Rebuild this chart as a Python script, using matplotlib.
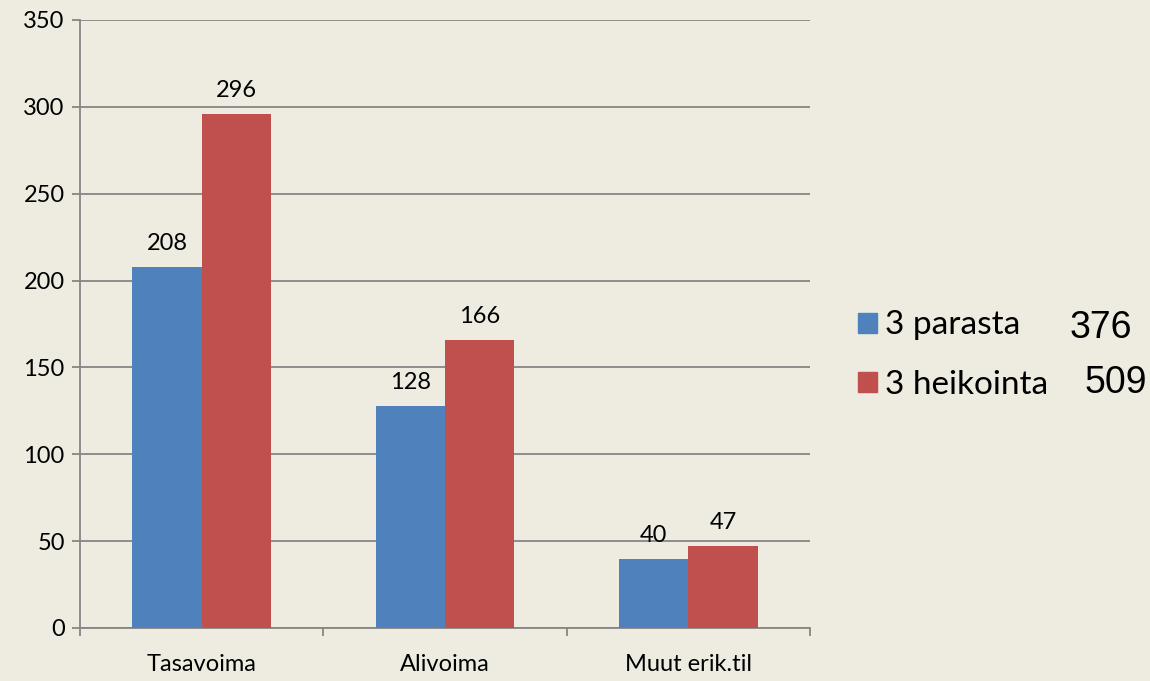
import numpy as np
import matplotlib.pyplot as plt
from matplotlib.patches import Patch

categories = ['Tasavoima', 'Alivoima', 'Muut erik.til']
parasta = [208, 128, 40]
heikointa = [296, 166, 47]
series_names = ['3 parasta', '3 heikointa']
totals = ['376', '509']

bg = '#EEECE1'
blue = '#4F81BD'
red = '#C0504D'
grid_col = '#868686'

plt.rcParams['font.family'] = ['Lato', 'DejaVu Sans']

fig = plt.figure(figsize=(11.5, 6.81), dpi=100, facecolor=bg)
ax = fig.add_axes([80 / 1150, 53 / 681, 730 / 1150, 608 / 681])
ax.set_facecolor(bg)

x = np.arange(len(categories))
w = 0.285
b1 = ax.bar(x - w / 2, parasta, w, color=blue, zorder=3)
b2 = ax.bar(x + w / 2, heikointa, w, color=red, zorder=3)

for bars, vals in ((b1, parasta), (b2, heikointa)):
    for rect, v in zip(bars, vals):
        ax.annotate(str(v), (rect.get_x() + rect.get_width() / 2, v),
                    xytext=(0, 13), textcoords='offset pixels',
                    ha='center', va='bottom', fontsize=17)

ax.set_xlim(-0.5, len(categories) - 0.5)
ax.set_ylim(0, 350)
ax.set_yticks(range(0, 351, 50))
ax.yaxis.grid(True, color=grid_col, linewidth=1.3, zorder=0)
ax.set_axisbelow(True)

ax.set_xticks(x)
ax.set_xticklabels(categories, fontsize=17)
ax.set_xticks(np.arange(-0.5, len(categories), 1), minor=True)
ax.tick_params(axis='x', which='major', length=0, pad=19)
ax.tick_params(axis='x', which='minor', length=6, width=1.3, color=grid_col)
ax.tick_params(axis='y', length=6, width=1.3, color=grid_col, labelsize=17, pad=5)

for s in ('top', 'right'):
    ax.spines[s].set_visible(False)
for s in ('left', 'bottom'):
    ax.spines[s].set_color(grid_col)
    ax.spines[s].set_linewidth(1.3)

handles = [Patch(color=blue), Patch(color=red)]
fig.legend(handles, series_names, loc='upper left',
           bbox_to_anchor=(845 / 1150, 1 - 297 / 681),
           frameon=False, fontsize=24, handlelength=0.55, handleheight=0.55,
           handletextpad=0.25, labelspacing=0.88, borderaxespad=0)

fig.text(1070 / 1150, 1 - 328 / 681, totals[0], fontsize=27,
         family='Liberation Sans', va='center')
fig.text(1085 / 1150, 1 - 383 / 681, totals[1], fontsize=27,
         family='Liberation Sans', va='center')

fig.savefig('out.png', dpi=100, facecolor=bg)
